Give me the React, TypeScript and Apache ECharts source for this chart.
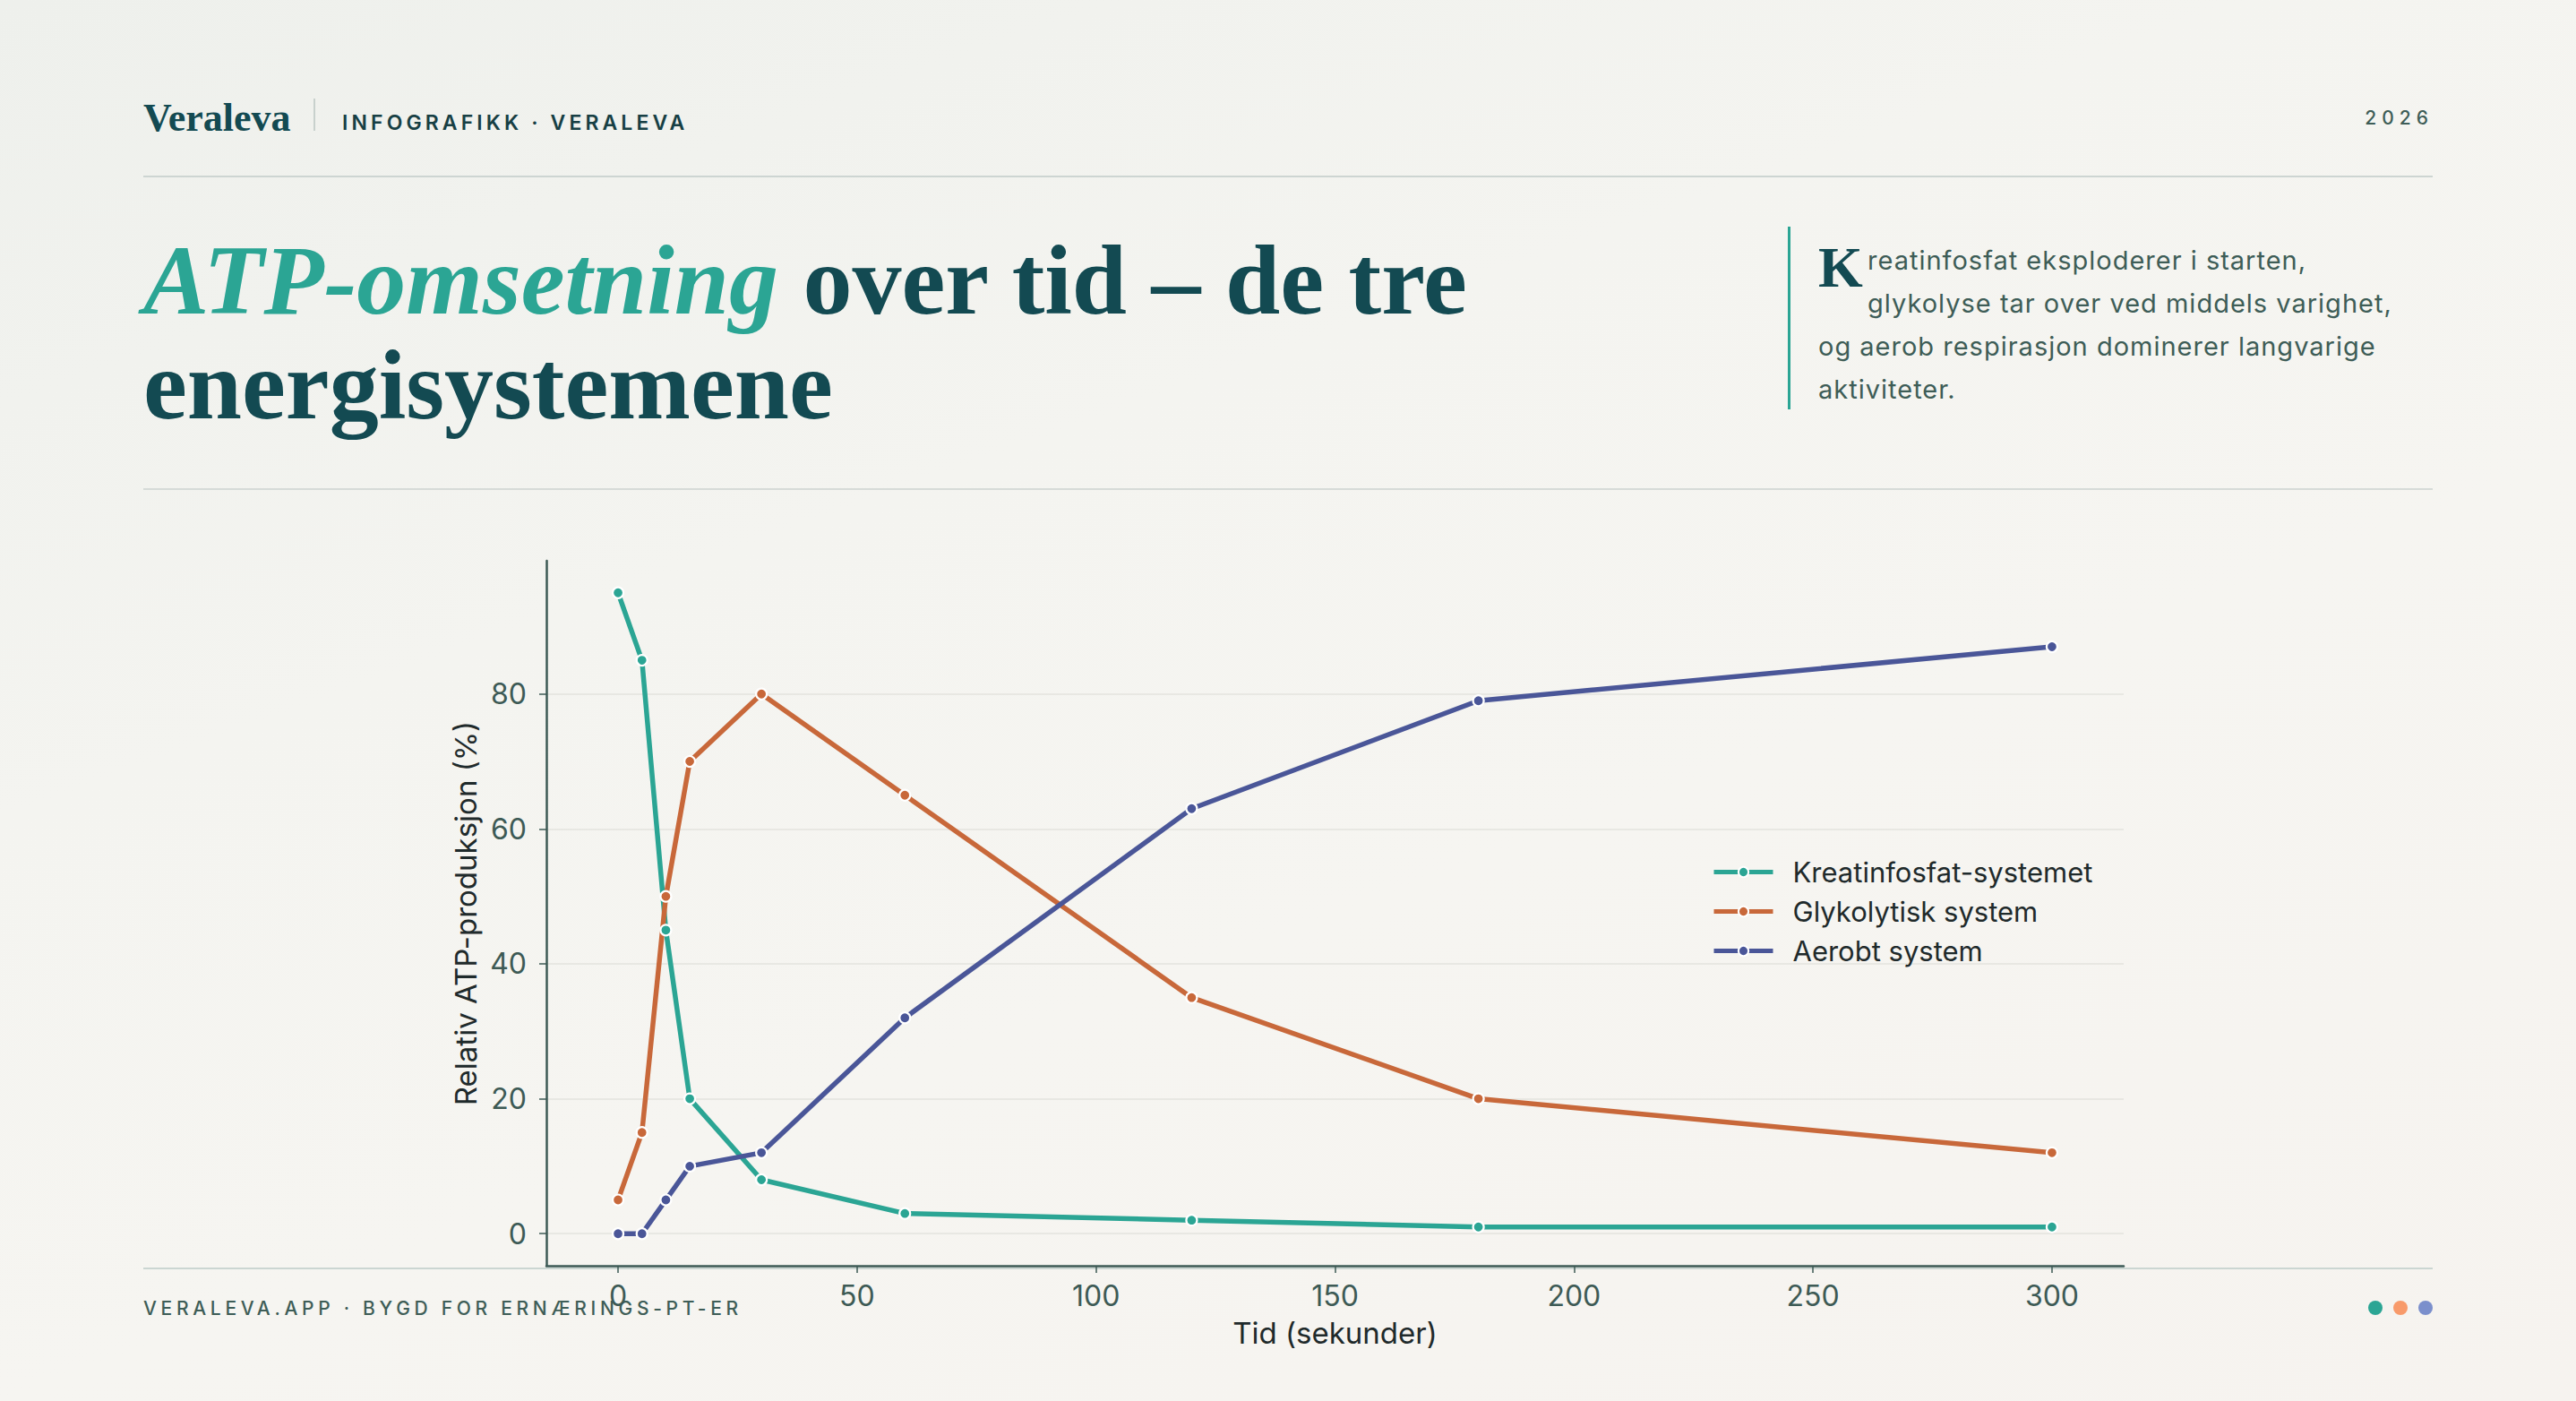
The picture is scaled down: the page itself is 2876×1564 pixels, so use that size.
import React, { useEffect, useRef } from "react";
import * as echarts from "echarts";

// Time points (seconds) and the relative ATP share of each energy system
const seconds = [0, 5, 10, 15, 30, 60, 120, 180, 300];
const kreatinfosfat = [95, 85, 45, 20, 8, 3, 2, 1, 1];
const glykolytisk = [5, 15, 50, 70, 80, 65, 35, 20, 12];
const aerobt = [0, 0, 5, 10, 12, 32, 63, 79, 87];
const seriesNames = ["Kreatinfosfat-systemet", "Glykolytisk system", "Aerobt system"];
const xTicks = [0, 50, 100, 150, 200, 250, 300];
const yTicks = [0, 20, 40, 60, 80];

const W = 2876;
const H = 1564;
const SANS = 'Inter, "Noto Sans", "Open Sans", sans-serif';
const SERIF = '"Liberation Serif", "DejaVu Serif", serif';
const TEAL = "#2ba594";
const ORANGE = "#c8683a";
const BLUE = "#4a5698";
const INK = "#134a52";
const MUTED = "#3e5d57";
const AXIS = "#3d5a55";

const pairs = (vals: number[]) => seconds.map((s, i) => [s, vals[i]]);

function makeSeries(name: string, vals: number[], color: string) {
  return {
    name,
    type: "line",
    data: pairs(vals),
    symbol: "circle",
    symbolSize: 12,
    showSymbol: true,
    lineStyle: { color, width: 5.5 },
    itemStyle: { color, borderColor: "#ffffff", borderWidth: 2.2 },
    emphasis: { disabled: true },
  };
}

function Chart() {
  const ref = useRef<HTMLDivElement>(null);
  useEffect(() => {
    if (!ref.current) return;
    const chart = echarts.init(ref.current, undefined, { renderer: "svg" });
    chart.setOption({
      animation: false,
      textStyle: { fontFamily: SANS },
      grid: { left: 610, right: W - 2371, top: 626, bottom: H - 1413, containLabel: false },
      legend: {
        orient: "vertical",
        left: 1911,
        top: 958,
        padding: 0,
        itemWidth: 66,
        itemHeight: 14,
        itemGap: 13,
        data: seriesNames,
        lineStyle: { width: 5 },
        textStyle: {
          fontFamily: SANS,
          fontSize: 31,
          lineHeight: 30,
          color: "#1f2a2b",
          padding: [0, 0, 0, 17],
        },
      },
      xAxis: {
        type: "value",
        min: -15,
        max: 315,
        name: "Tid (sekunder)",
        nameLocation: "middle",
        nameGap: 58,
        nameTextStyle: { fontFamily: SANS, fontSize: 33, color: "#1f2a2b" },
        axisLine: { show: true, onZero: false, lineStyle: { color: AXIS, width: 2.5 } },
        axisTick: { show: true, length: 8, customValues: xTicks, lineStyle: { color: AXIS, width: 1.5 } },
        axisLabel: { customValues: xTicks, margin: 17, fontSize: 32, color: AXIS, fontFamily: SANS },
        splitLine: { show: false },
      },
      yAxis: {
        type: "value",
        min: -4.75,
        max: 99.75,
        name: "Relativ ATP-produksjon (%)",
        nameLocation: "middle",
        nameGap: 72,
        nameTextStyle: { fontFamily: SANS, fontSize: 33, color: "#1f2a2b" },
        axisLine: { show: true, onZero: false, lineStyle: { color: AXIS, width: 2.5 } },
        axisTick: { show: true, length: 8, customValues: yTicks, lineStyle: { color: AXIS, width: 1.5 } },
        axisLabel: { customValues: yTicks, margin: 22, fontSize: 32, color: AXIS, fontFamily: SANS },
        splitLine: { show: true, lineStyle: { color: "#e3e3de", width: 1.5 } },
      },
      series: [
        makeSeries(seriesNames[0], kreatinfosfat, TEAL),
        makeSeries(seriesNames[1], glykolytisk, ORANGE),
        makeSeries(seriesNames[2], aerobt, BLUE),
      ],
    });
    return () => chart.dispose();
  }, []);
  return <div ref={ref} style={{ position: "absolute", left: 0, top: 0, width: W, height: H }} />;
}

const abs = (left: number, top: number, extra: React.CSSProperties = {}): React.CSSProperties => ({
  position: "absolute",
  left,
  top,
  margin: 0,
  whiteSpace: "nowrap",
  ...extra,
});

const rule = (top: number, color: string): React.CSSProperties => ({
  position: "absolute",
  left: 160,
  top,
  width: 2556,
  height: 2,
  background: color,
});

const noteText: React.CSSProperties = {
  fontFamily: SANS,
  fontSize: 29,
  lineHeight: "29px",
  letterSpacing: "1px",
  color: MUTED,
};

export default function App() {
  useEffect(() => {
    document.body.style.margin = "0";
  }, []);
  return (
    <div
      style={{
        position: "absolute",
        left: 0,
        top: 0,
        width: W,
        height: H,
        overflow: "hidden",
        background:
          "linear-gradient(160deg, #eef0ec 0%, #f4f4f0 35%, #f6f5f1 60%, #f6f3ef 100%)",
      }}
    >
      {/* header */}
      <div style={abs(160, 110, { fontFamily: SERIF, fontWeight: 700, fontSize: 44, lineHeight: "44px", color: INK })}>
        Veraleva
      </div>
      <div style={{ position: "absolute", left: 350, top: 110, width: 2, height: 36, background: "#c8d1cd" }} />
      <div
        style={abs(382, 126, {
          fontFamily: SANS,
          fontWeight: 600,
          fontSize: 23,
          lineHeight: "23px",
          letterSpacing: "4.1px",
          color: "#173f44",
        })}
      >
        INFOGRAFIKK · VERALEVA
      </div>
      <div
        style={{
          position: "absolute",
          right: 159,
          top: 121,
          fontFamily: SANS,
          fontWeight: 500,
          fontSize: 21,
          lineHeight: "21px",
          letterSpacing: "6px",
          color: MUTED,
        }}
      >
        2026
      </div>
      <div style={rule(196, "#cdd5d2")} />

      {/* title */}
      <div style={abs(160, 255, { fontFamily: SERIF, fontWeight: 700, fontSize: 110, lineHeight: "117px", color: INK })}>
        <span style={{ fontStyle: "italic", color: TEAL }}>ATP-omsetning</span> over tid – de tre
        <br />
        energisystemene
      </div>

      {/* lead note */}
      <div style={{ position: "absolute", left: 1996, top: 253, width: 3, height: 204, background: TEAL }} />
      <div style={abs(2030, 267, { fontFamily: SERIF, fontWeight: 700, fontSize: 64, lineHeight: "64px", color: INK })}>K</div>
      <div style={abs(2085, 276, noteText)}>reatinfosfat eksploderer i starten,</div>
      <div style={abs(2085, 324, noteText)}>glykolyse tar over ved middels varighet,</div>
      <div style={abs(2030, 372, noteText)}>og aerob respirasjon dominerer langvarige</div>
      <div style={abs(2030, 420, noteText)}>aktiviteter.</div>
      <div style={rule(545, "#d6dbd8")} />

      {/* footer */}
      <div style={rule(1415, "#cbd6d2")} />
      <div
        style={abs(160, 1450, {
          fontFamily: SANS,
          fontWeight: 500,
          fontSize: 21,
          lineHeight: "21px",
          letterSpacing: "4.7px",
          color: MUTED,
        })}
      >
        VERALEVA.APP · BYGD FOR ERNÆRINGS-PT-ER
      </div>
      {[TEAL, "#f89a6a", "#7b8fcc"].map((c, i) => (
        <div
          key={c}
          style={{
            position: "absolute",
            left: 2644 + i * 28,
            top: 1452,
            width: 16,
            height: 16,
            borderRadius: 8,
            background: c,
          }}
        />
      ))}

      <Chart />
    </div>
  );
}
